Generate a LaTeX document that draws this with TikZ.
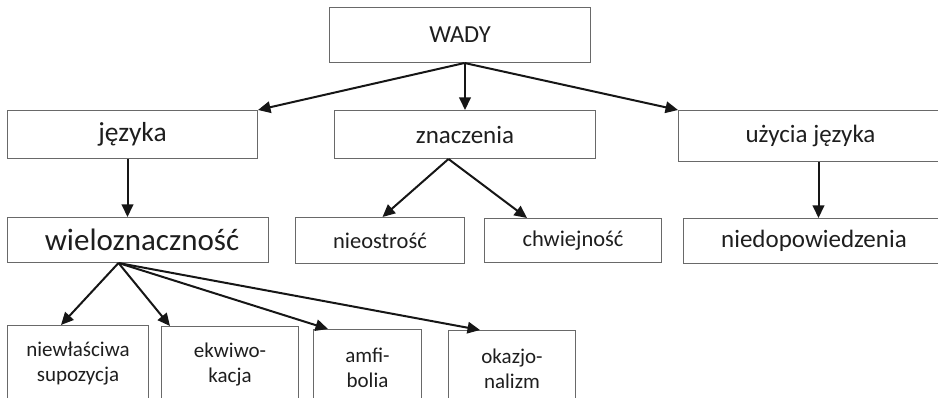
\documentclass[tikz,border=0pt]{standalone}
\usepackage{fontspec}
\setmainfont{Carlito}
\usetikzlibrary{arrows.meta}
\definecolor{boxgray}{RGB}{105,105,105}
\definecolor{txt}{RGB}{30,30,30}
\definecolor{arrcol}{RGB}{22,22,22}
\begin{document}
\begin{tikzpicture}[x=1pt,y=-1pt,
  box/.style={draw=boxgray, line width=1pt, rectangle, anchor=north west, inner sep=0pt, text=txt, align=center},
  arr/.style={draw=arrcol, line width=2pt, -{Triangle[length=12.5pt,width=11.5pt]}},
  big/.style={font=\fontsize{25}{29}\selectfont},
  small/.style={font=\fontsize{21}{25}\selectfont}]
\useasboundingbox (0,0) rectangle (938,398);
\clip (0,0) rectangle (938,398);
% boxes
\node[box, minimum width=261pt, minimum height=55pt, font=\fontsize{24.5}{28}\selectfont] (wady) at (329,7) {WADY};
\node[box, font=\fontsize{27.5}{31}\selectfont, minimum width=250pt, minimum height=48pt] (jez) at (7,110) {języka};
\node[box, big, minimum width=261pt, minimum height=48pt] (zn) at (334,110) {znaczenia};
\node[box, big, minimum width=264pt, minimum height=51pt] (uz) at (678,110) {użycia języka};
\node[box, font=\fontsize{31}{35}\selectfont, minimum width=261pt, minimum height=45pt] (wielo) at (7,217) {\hspace*{8pt}wieloznaczność};
\node[box, font=\fontsize{22.5}{26}\selectfont, minimum width=169pt, minimum height=46pt] (nieo) at (295,217) {nieostrość};
\node[box, font=\fontsize{22.5}{26}\selectfont, minimum width=177pt, minimum height=44pt] (chw) at (484,218) {chwiejność};
\node[box, big, minimum width=261pt, minimum height=45pt] (nied) at (683,218) {niedopowiedzenia};
\node[box, small, minimum width=141pt, minimum height=76pt] (niew) at (7,325) {niewłaściwa\\supozycja};
\node[box, small, minimum width=137pt, minimum height=76pt] (ekw) at (161,326) {ekwiwo-\\kacja};
\node[box, small, minimum width=108pt, minimum height=76pt] (amf) at (313,329) {amfi-\\bolia};
\node[box, small, minimum width=127pt, minimum height=76pt] (oka) at (448,330) {okazjo-\\nalizm};
% connectors
\draw[arr] ([xshift=4.5pt]wady.south) -- (jez.north east);
\draw[arr] (zn.north |- wady.south) -- (zn.north);
\draw[arr] ([xshift=4.5pt]wady.south) -- (uz.north west);
\draw[arr] ([xshift=-5pt]jez.south) -- ([xshift=-5pt]jez.south |- wielo.north);
\draw[arr] ([xshift=-16.5pt]zn.south) -- ([xshift=2.5pt]nieo.north);
\draw[arr] ([xshift=-16.5pt]zn.south) -- ([xshift=43pt]chw.north west);
\draw[arr] ([xshift=8pt]uz.south) -- ([xshift=8pt]uz.south |- nied.north);
\draw[arr] ([xshift=-19.5pt]wielo.south) -- ([xshift=54pt]niew.north west);
\draw[arr] ([xshift=-19.5pt]wielo.south) -- ([xshift=9pt]ekw.north west);
\draw[arr] ([xshift=-19.5pt]wielo.south) -- ([xshift=15pt]amf.north west);
\draw[arr] ([xshift=-19.5pt]wielo.south) -- ([xshift=32pt]oka.north west);
\end{tikzpicture}
\end{document}
